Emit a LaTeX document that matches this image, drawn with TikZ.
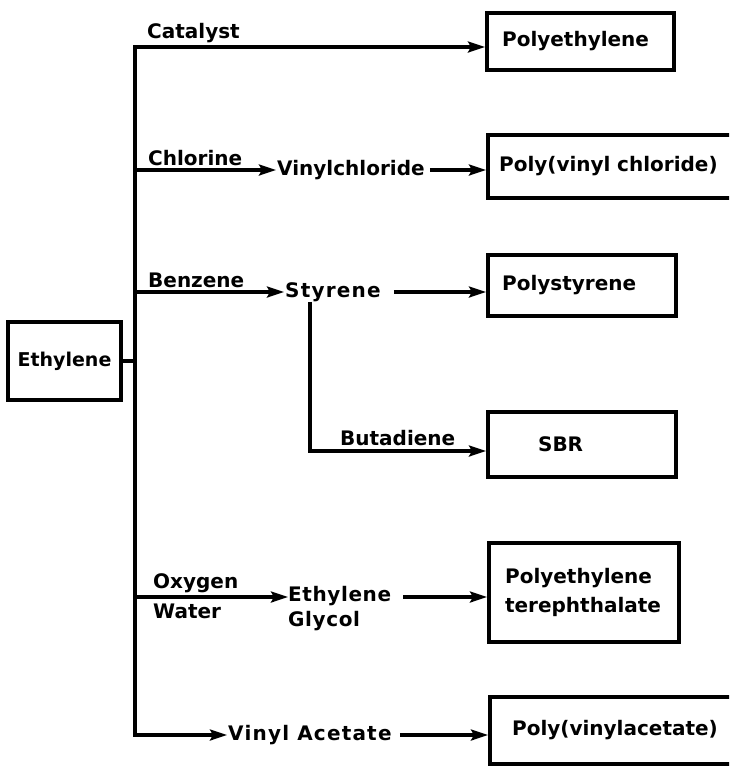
\documentclass[tikz,border=0pt]{standalone}
\usepackage{fontspec}
\setmainfont{DejaVu Sans}
\newfontfamily\widefont{DejaVu Sans}[LetterSpace=6]
\newfontfamily\midfont{DejaVu Sans}[LetterSpace=3]
\usetikzlibrary{arrows.meta}
\begin{document}
\begin{tikzpicture}[x=1pt,y=-1pt,
  conn/.style={line width=3.2pt},
  arr/.style={-{Stealth[length=17pt,width=11pt,inset=3pt]}},
  box/.style={draw, line width=4.2pt, inner ysep=0pt, align=left, anchor=west,
    font=\bfseries\fontsize{20}{29}\selectfont},
  lab/.style={inner sep=0pt, font=\bfseries\fontsize{20}{25}\selectfont}]
\useasboundingbox (0,0) rectangle (729,766);
\fill[white] (0,0) rectangle (729,766);
\clip (0,0) rectangle (729,766);

% boxes
\node[draw, line width=4.2pt, inner sep=0pt, minimum width=113pt, minimum height=78pt,
  font=\bfseries\fontsize{19}{23}\selectfont] (eth) at (64.5,361) {Ethylene};
\node[box, inner xsep=15pt, text width=157pt, minimum height=57pt] (pe) at (485,41.5) {Polyethylene};
\node[box, inner xsep=11pt, text width=252pt, minimum height=63pt] (pvc) at (486,166.5) {Poly(vinyl chloride)};
\node[box, inner xsep=14pt, text width=160pt, minimum height=61pt] (ps) at (486,285.5) {Polystyrene};
\node[box, inner xsep=50pt, text width=88pt, minimum height=65pt] (sbr) at (486,444.5) {SBR};
\node[box, inner xsep=16pt, text width=158pt, minimum height=99pt] (pet) at (487,592.5) {Polyethylene\\terephthalate};
\node[box, inner xsep=22pt, text width=228pt, minimum height=67pt] (pvac) at (488,730.5) {Poly(vinylacetate)};

% intermediate texts
\node[lab, anchor=west, inner xsep=1pt] (vc) at (276,170) {Vinylchloride};
\node[lab, anchor=west, inner xsep=1pt, font=\bfseries\widefont\fontsize{20}{25}\selectfont] (st) at (284,292) {Styrene};
\node[lab, anchor=north west, align=left, font=\bfseries\midfont\fontsize{20}{25}\selectfont] (eg) at (288,586) {Ethylene\\Glycol};
\node[lab, anchor=west, inner xsep=1pt, font=\bfseries\widefont\fontsize{20}{25}\selectfont] (va) at (227,735) {Vinyl Acetate};

% reagent labels
\node[lab, anchor=base west] (catalyst) at (147,38) {Catalyst};
\node[lab, anchor=base west] (chlorine) at (148,165) {Chlorine};
\node[lab, anchor=base west] (benzene) at (148,287) {Benzene};
\node[lab, anchor=base west] (butadiene) at (340,445) {Butadiene};
\node[lab, anchor=base west] (oxygen) at (153,588) {Oxygen};
\node[lab, anchor=base west] (water) at (153,618) {Water};

% trunk coordinates
\coordinate (t1) at (135,47);
\coordinate (t2) at (135,170);
\coordinate (t3) at (135,292);
\coordinate (t4) at (135,597);
\coordinate (t5) at (135,735);
\coordinate (sd) at (310,451);

% trunk and branches
\draw[conn, arr] (t5) -- (t1) -- (t1 -| pe.west);
\draw[conn, arr] (t1) -- (t5) -- (va.west);
\draw[conn] (eth.east) -- (eth.east -| t1);
\draw[conn, arr] (t2) -- (vc.west);
\draw[conn, arr, shorten <=4pt] (vc.east) -- (vc.east -| pvc.west);
\draw[conn, arr] (t3) -- (st.west);
\draw[conn, arr, shorten <=12pt] (st.east) -- (st.east -| ps.west);
\draw[conn, arr] (st.south -| sd) -- (sd) -- (sd -| sbr.west);
\draw[conn, arr] (t4) -- (t4 -| eg.west);
\draw[conn, arr, shorten <=12pt] (t4 -| eg.east) -- (t4 -| pet.west);
\draw[conn, arr, shorten <=7pt] (va.east) -- (va.east -| pvac.west);
\end{tikzpicture}
\end{document}
